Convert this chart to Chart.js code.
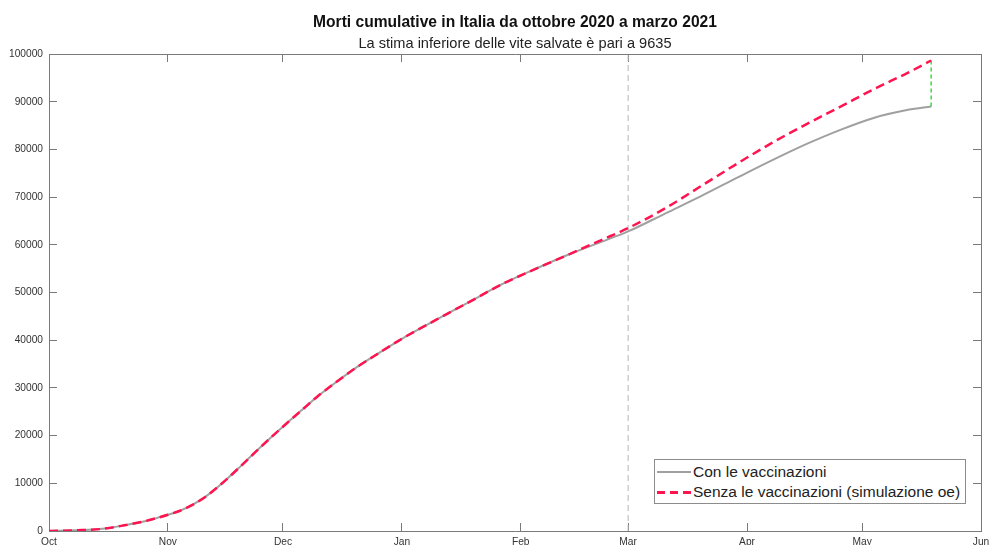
<!DOCTYPE html>
<html>
<head>
<meta charset="utf-8">
<script src="https://cdn.jsdelivr.net/npm/chart.js@4.4.1/dist/chart.umd.min.js"></script>
<style>
  body { margin: 0; background: #fff; }
  #wrap { position: relative; width: 990px; height: 545px; overflow: hidden; font-family: "Liberation Sans", Arial, sans-serif; }
  #chart { position: absolute; left: 0; top: 0; }
  .title { position: absolute; left: 215px; width: 600px; text-align: center; white-space: nowrap; color: #111; }
  #t1 { top: 12px; font-size: 15.6px; line-height: 20px; font-weight: bold; }
  #t2 { top: 34px; font-size: 14.6px; line-height: 18px; color: #222; }
  #legend { position: absolute; left: 654px; top: 459px; width: 310px; height: 43px; border: 1px solid #8c8c8c; background: #fff; }
  .row { position: absolute; left: 0; height: 20px; font-size: 15.5px; line-height: 20px; color: #222; white-space: nowrap; }
  .row span.s { position: absolute; left: 2px; top: 9px; width: 34px; height: 2px; }
  .row span.t { position: absolute; left: 38px; top: 0; }
</style>
</head>
<body>
<div id="wrap">
  <canvas id="chart" width="990" height="545"></canvas>
  <div class="title" id="t1">Morti cumulative in Italia da ottobre 2020 a marzo 2021</div>
  <div class="title" id="t2">La stima inferiore delle vite salvate è pari a 9635</div>
  <div id="legend">
    <div class="row" style="top:2px"><span class="s" style="background:#a0a0a0"></span><span class="t">Con le vaccinazioni</span></div>
    <div class="row" style="top:22px"><span class="s" style="height:2.5px;background:repeating-linear-gradient(to right,#ff1450 0 8px,transparent 8px 13px)"></span><span class="t">Senza le vaccinazioni (simulazione oe)</span></div>
  </div>
</div>
<script>
// days counted from 1 Oct 2020
const MONTH_DAYS = [0, 31, 61, 92, 123, 151, 182, 212, 243];
const MONTH_LABELS = ['Oct', 'Nov', 'Dec', 'Jan', 'Feb', 'Mar', 'Apr', 'May', 'Jun'];
const Y_TICKS = [0, 10000, 20000, 30000, 40000, 50000, 60000, 70000, 80000, 90000, 100000];

// (the two curves overlap until late February)
const CON_DAYS = [0, 7, 14, 20, 25, 28, 31, 34, 37, 41, 45, 50, 54, 58, 62, 66, 70, 75, 80, 86, 92, 101, 110, 118, 127, 135, 144, 151, 161, 170, 180, 189, 198, 206, 215, 224, 230];
const CON_VACC = [0, 150, 450, 1250, 2050, 2700, 3400, 4200, 5300, 7300, 9900, 13600, 16700, 19700, 22600, 25400, 28200, 31300, 34200, 37300, 40300, 44300, 48200, 51700, 55000, 57800, 60600, 62800, 66700, 70200, 74300, 77900, 81300, 84000, 86600, 88300, 89000];

const SENZA_DAYS = [0, 7, 14, 20, 25, 28, 31, 34, 37, 41, 45, 50, 54, 58, 62, 66, 70, 75, 80, 86, 92, 101, 110, 118, 127, 135, 144, 151, 161, 170, 180, 189, 198, 206, 215, 224, 230];
const SENZA_VACC = [0, 150, 450, 1250, 2050, 2700, 3400, 4200, 5300, 7300, 9900, 13600, 16700, 19700, 22600, 25400, 28200, 31300, 34200, 37300, 40300, 44300, 48200, 51700, 55000, 57800, 61000, 63500, 67800, 72300, 77300, 81600, 85500, 88800, 92600, 96100, 98635];

const MARCH_DAY = 151;
const LAST_DAY = 230;
const SAVED_RANGE = [89000, 98635];

const toPoints = (xs, ys) => xs.map((x, i) => ({ x: x, y: ys[i] }));

const AXIS_COLOR = '#7a7a7a';
const LABEL_COLOR = '#333';

// MATLAB-like box: ticks pointing inward on all four sides
function boxAxis(position, isX, showLabels) {
  const axis = {
    type: 'linear',
    position: position,
    min: isX ? MONTH_DAYS[0] : Y_TICKS[0],
    max: isX ? MONTH_DAYS[MONTH_DAYS.length - 1] : Y_TICKS[Y_TICKS.length - 1],
    afterBuildTicks: (s) => { s.ticks = (isX ? MONTH_DAYS : Y_TICKS).map(v => ({ value: v })); },
    grid: { drawOnChartArea: false, tickLength: -8, color: AXIS_COLOR, lineWidth: 1 },
    border: { display: true, color: AXIS_COLOR, width: 1 },
    ticks: {
      display: showLabels,
      autoSkip: false,
      maxRotation: 0,
      color: LABEL_COLOR,
      font: { family: '"Liberation Sans", Arial, sans-serif', size: 10.2 },
      padding: isX ? 13 : 14,
      callback: isX ? (v) => MONTH_LABELS[MONTH_DAYS.indexOf(v)] : (v) => String(v)
    }
  };
  if (isX) {
    axis.afterFit = (s) => {
      s.height = showLabels ? 14 : 0;
      // let the "Jun" label hang over the edge instead of shrinking the plot
      s.paddingLeft = 0;
      s.paddingRight = 0;
    };
  } else {
    axis.afterFit = (s) => { s.width = showLabels ? 49 : 0; s.paddingTop = 0; s.paddingBottom = 0; };
  }
  return axis;
}

new Chart(document.getElementById('chart'), {
  type: 'line',
  data: {
    datasets: [
      {
        label: 'Senza le vaccinazioni (simulazione oe)',
        data: toPoints(SENZA_DAYS, SENZA_VACC),
        borderColor: '#ff1450',
        borderWidth: 2.5,
        borderDash: [9, 5],
        cubicInterpolationMode: 'monotone',
        pointRadius: 0,
        order: 0
      },
      {
        label: 'salvate',
        data: [{ x: LAST_DAY, y: SAVED_RANGE[0] }, { x: LAST_DAY, y: SAVED_RANGE[1] }],
        borderColor: '#22d422',
        borderWidth: 1.3,
        borderDash: [4, 3],
        pointRadius: 0,
        order: 1
      },
      {
        label: 'Con le vaccinazioni',
        data: toPoints(CON_DAYS, CON_VACC),
        borderColor: '#a0a0a0',
        borderWidth: 2,
        cubicInterpolationMode: 'monotone',
        pointRadius: 0,
        order: 2
      },
      {
        label: 'marzo',
        data: [{ x: MARCH_DAY, y: Y_TICKS[0] }, { x: MARCH_DAY, y: Y_TICKS[Y_TICKS.length - 1] }],
        borderColor: '#b4b4b4',
        borderWidth: 1,
        borderDash: [6, 4],
        pointRadius: 0,
        order: 3
      }
    ]
  },
  options: {
    responsive: false,
    animation: false,
    layout: { padding: { top: 54, right: 9, left: 0, bottom: 0 } },
    plugins: { legend: { display: false }, tooltip: { enabled: false } },
    scales: {
      x: boxAxis('bottom', true, true),
      x2: boxAxis('top', true, false),
      y: boxAxis('left', false, true),
      y2: boxAxis('right', false, false)
    }
  }
});
</script>
</body>
</html>
